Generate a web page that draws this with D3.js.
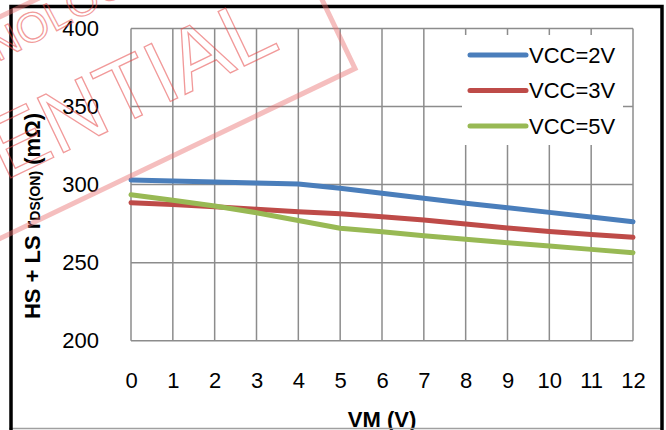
<!DOCTYPE html>
<html>
<head>
<meta charset="utf-8">
<script src="https://cdn.jsdelivr.net/npm/d3@7"></script>
<style>
  body { margin: 0; background: #fff; }
  svg text { font-family: "Liberation Sans", Arial, sans-serif; }
</style>
</head>
<body>
<div id="graph"></div>
<script>
// datos
const vm = [0, 1, 2, 3, 4, 5, 6, 7, 8, 9, 10, 11, 12];
const vcc2 = [303, 302.3, 301.6, 301, 300.4, 297.6, 294.4, 291.2, 288, 285.2, 282.2, 279.2, 276.2];
const vcc3 = [288.4, 287.2, 285.8, 284.2, 282.6, 281.4, 279.4, 277.3, 274.7, 272.2, 270, 268, 266.2];
const vcc5 = [293.5, 290, 286.3, 282, 277, 272, 269.8, 267.3, 265, 262.8, 260.6, 258.5, 256.4];
const seriesNames = ["VCC=2V", "VCC=3V", "VCC=5V"];
const yTicks = [200, 250, 300, 350, 400];

const colores = ["#4A7EBB", "#BE4B48", "#98B954"];
const series = [vcc2, vcc3, vcc5].map((vals, i) => ({
    name: seriesNames[i],
    color: colores[i],
    values: vals.map((v, j) => ({ x: vm[j], y: v }))
}));

const width = 666, height = 430;
const svg = d3.select("#graph").append("svg")
    .attr("width", width)
    .attr("height", height);

svg.append("rect").attr("width", width).attr("height", height).attr("fill", "#fff");

// escalas
const x = d3.scaleLinear().domain([0, 12]).range([131, 633]);
const y = d3.scaleLinear().domain([200, 400]).range([340.7, 28.5]);

// rejilla
const grid = svg.append("g");
grid.selectAll("line.v")
    .data(vm)
    .enter().append("line")
    .attr("x1", d => x(d)).attr("x2", d => x(d))
    .attr("y1", y(200)).attr("y2", y(400))
    .attr("stroke", "#8c8c8c").attr("stroke-width", 1.5);
grid.selectAll("line.h")
    .data(yTicks)
    .enter().append("line")
    .attr("x1", x(0)).attr("x2", x(12))
    .attr("y1", d => y(d)).attr("y2", d => y(d))
    .attr("stroke", "#8c8c8c").attr("stroke-width", 1.5);

// ejes (solo etiquetas)
const yAxis = svg.append("g")
    .attr("transform", `translate(${x(0)},0)`)
    .call(d3.axisLeft(y).tickValues(yTicks).tickSize(0).tickPadding(32));
const xAxis = svg.append("g")
    .attr("transform", `translate(0,${y(200)})`)
    .call(d3.axisBottom(x).tickValues(vm).tickSize(0).tickPadding(32));
[yAxis, xAxis].forEach(a => {
    a.select(".domain").remove();
    a.selectAll("text")
        .attr("fill", "#000")
        .style("font-size", "22px")
        .style("font-family", "'Liberation Sans', Arial, sans-serif");
});

// leyenda
const leg = svg.append("g");
leg.append("rect")
    .attr("x", 462).attr("y", 35).attr("width", 161).attr("height", 110)
    .attr("fill", "#fff");
series.forEach((s, i) => {
    const ly = 55 + i * 35.5;
    leg.append("line")
        .attr("x1", 470).attr("x2", 526).attr("y1", ly).attr("y2", ly)
        .attr("stroke", s.color).attr("stroke-width", 5).attr("stroke-linecap", "round");
    leg.append("text")
        .attr("x", 529).attr("y", ly).attr("dy", "0.36em")
        .style("font-size", "22px")
        .text(s.name);
});

// líneas
const line = d3.line().x(d => x(d.x)).y(d => y(d.y));
svg.selectAll("path.serie")
    .data(series)
    .enter().append("path")
    .attr("class", "serie")
    .attr("d", d => line(d.values))
    .attr("fill", "none")
    .attr("stroke", d => d.color)
    .attr("stroke-width", 5)
    .attr("stroke-linecap", "round")
    .attr("stroke-linejoin", "round");

// títulos
svg.append("text")
    .attr("x", x(6)).attr("y", 427)
    .attr("text-anchor", "middle")
    .style("font-size", "22px").style("font-weight", "bold")
    .text("VM (V)");

const yt = svg.append("text")
    .attr("transform", "translate(40,216) rotate(-90)")
    .attr("text-anchor", "middle")
    .style("font-size", "22px").style("font-weight", "bold");
yt.append("tspan").text("HS + LS r");
yt.append("tspan").style("font-size", "14px").text("DS(ON)");
yt.append("tspan").text(" (mΩ)");

// marco
svg.append("line").attr("x1", 9).attr("x2", 662).attr("y1", 428.5).attr("y2", 428.5)
    .attr("stroke", "#a0a0a0").attr("stroke-width", 1.5);
svg.append("rect")
    .attr("x", 11).attr("y", 6.5).attr("width", 651).attr("height", 440)
    .attr("fill", "none").attr("stroke", "#000").attr("stroke-width", 3.5);

// marca de agua
const wm = svg.append("g").attr("transform", "translate(282,48) rotate(-25.6)");
wm.append("rect")
    .attr("x", -900).attr("y", -150).attr("width", 957).attr("height", 200)
    .attr("fill", "none").attr("stroke", "rgba(232,110,110,0.45)").attr("stroke-width", 5);
wm.append("text")
    .attr("x", 0).attr("y", 0).attr("text-anchor", "end")
    .style("font-size", "88px")
    .attr("fill", "none").attr("stroke", "rgba(230,70,70,0.55)").attr("stroke-width", 1.3)
    .text("CONFIDENTIAL");
svg.append("text")
    .attr("transform", "translate(-2,62) rotate(-28)")
    .style("font-size", "42px")
    .attr("fill", "none").attr("stroke", "rgba(230,70,70,0.55)").attr("stroke-width", 1.3)
    .text("NOLOGY");
</script>
</body>
</html>
